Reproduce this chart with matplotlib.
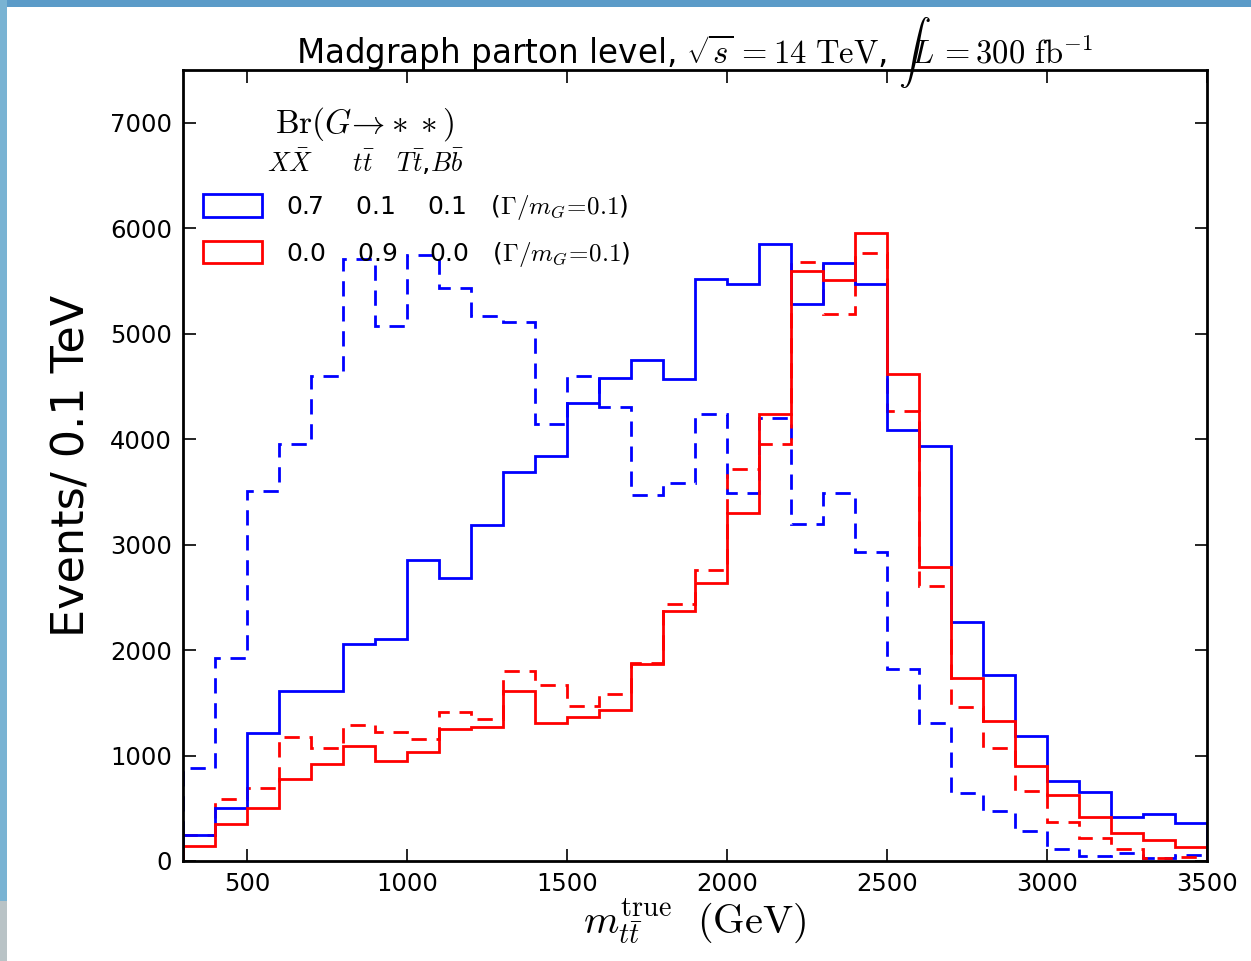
import numpy as np
import matplotlib
matplotlib.use("Agg")
import matplotlib.pyplot as plt
from matplotlib.patches import Rectangle

# ---- data ----
bin_edges = list(range(300, 3600, 100))

blue_solid = [250, 500, 1210, 1610, 1610, 2060, 2105, 2850, 2680, 3190,
              3685, 3840, 4345, 4575, 4748, 4572, 5520, 5473, 5848, 5280,
              5668, 5473, 4088, 3936, 2270, 1764, 1186, 755, 650, 417,
              446, 360]
blue_dashed = [882, 1925, 3510, 3955, 4600, 5705, 5070, 5748, 5435, 5170,
               5113, 4145, 4600, 4306, 3466, 3585, 4240, 3490, 4197, 3196,
               3490, 2930, 1825, 1309, 645, 474, 285, 114, 47, 76,
               28, 57]
red_solid = [140, 350, 500, 775, 920, 1090, 950, 1034, 1250, 1270,
             1610, 1309, 1366, 1432, 1868, 2371, 2637, 3300, 4240, 5596,
             5511, 5957, 4619, 2789, 1735, 1328, 901, 626, 417, 266,
             199, 133]
red_dashed = [247, 588, 692, 1176, 1072, 1290, 1223, 1157, 1413, 1347,
              1802, 1669, 1470, 1584, 1880, 2438, 2760, 3718, 3955, 5682,
              5188, 5767, 4268, 2608, 1461, 1072, 664, 370, 218, 114,
              28, 38]

legend_labels = [r"0.7    0.1    0.1   ($\Gamma/m_G\!=\!0.1$)",
                 r"0.0    0.9    0.0   ($\Gamma/m_G\!=\!0.1$)"]
legend_title = r"$\mathrm{Br}(G\!\rightarrow\!**)$"
legend_sub = r"$X\bar{X}$     $t\bar{t}$   $T\bar{t}$,$B\bar{b}$"

plt.rcParams['mathtext.fontset'] = 'cm'
plt.rcParams['font.family'] = ['DejaVu Sans']

W, H = 1251, 961
fig = plt.figure(figsize=(W / 100, H / 100), dpi=100)
fig.patch.set_facecolor('white')

# slide border decoration
fig.patches.append(Rectangle((0, 1 - 7 / H), 1, 7 / H, transform=fig.transFigure,
                             facecolor='#5b9bc8', edgecolor='none', zorder=0))
fig.patches.append(Rectangle((0, 60 / H), 7 / W, 1, transform=fig.transFigure,
                             facecolor='#79b3d3', edgecolor='none', zorder=0))
fig.patches.append(Rectangle((0, 0), 7 / W, 60 / H, transform=fig.transFigure,
                             facecolor='#b9c3c6', edgecolor='none', zorder=0))

ax = fig.add_axes([183 / W, 1 - 861 / H, (1207 - 183) / W, (861 - 70) / H])

centers = [e + 50 for e in bin_edges[:-1]]
lw = 2.0
dash = (0, (5.5, 3.5))
ax.hist(centers, bins=bin_edges, weights=blue_dashed, histtype='step',
        color='#0000ff', lw=lw, linestyle=dash)
ax.hist(centers, bins=bin_edges, weights=red_dashed, histtype='step',
        color='#ff0000', lw=lw, linestyle=dash)
ax.hist(centers, bins=bin_edges, weights=blue_solid, histtype='step',
        color='#0000ff', lw=lw, label=legend_labels[0])
ax.hist(centers, bins=bin_edges, weights=red_solid, histtype='step',
        color='#ff0000', lw=lw, label=legend_labels[1])

ax.set_xlim(300, 3500)
ax.set_ylim(0, 7500)
ax.set_xticks([500, 1000, 1500, 2000, 2500, 3000, 3500])
ax.set_yticks([0, 1000, 2000, 3000, 4000, 5000, 6000, 7000])
ax.tick_params(direction='in', length=9, width=1.2, top=True, right=True,
               labelsize=17.5, pad=8, colors='black')
for s in ax.spines.values():
    s.set_linewidth(2.0)

ax.set_xlabel(r"$m_{t\bar{t}}^{\rm true}\ \ (\mathrm{GeV})$", fontsize=29, labelpad=0)
ax.set_ylabel("Events/ 0.1 TeV", fontsize=32, labelpad=12)
ax.set_title(r"Madgraph parton level, $\sqrt{s}\,{=}14\ \mathrm{TeV}$, $\int\! L\,{=}300\ \mathrm{fb}^{-1}$",
             fontsize=23.5, pad=5)

ax.text(869, 6985, legend_title, fontsize=24, ha='center', va='center')
ax.text(869, 6620, legend_sub, fontsize=19, ha='center', va='center')

leg = ax.legend(loc='upper left', bbox_to_anchor=(0.01, 0.857), frameon=False,
                fontsize=18, handlelength=2.35, handleheight=1.0,
                labelspacing=0.7, handletextpad=0.95, borderaxespad=0.0)

fig.savefig("out.png", dpi=100, facecolor=fig.get_facecolor())
